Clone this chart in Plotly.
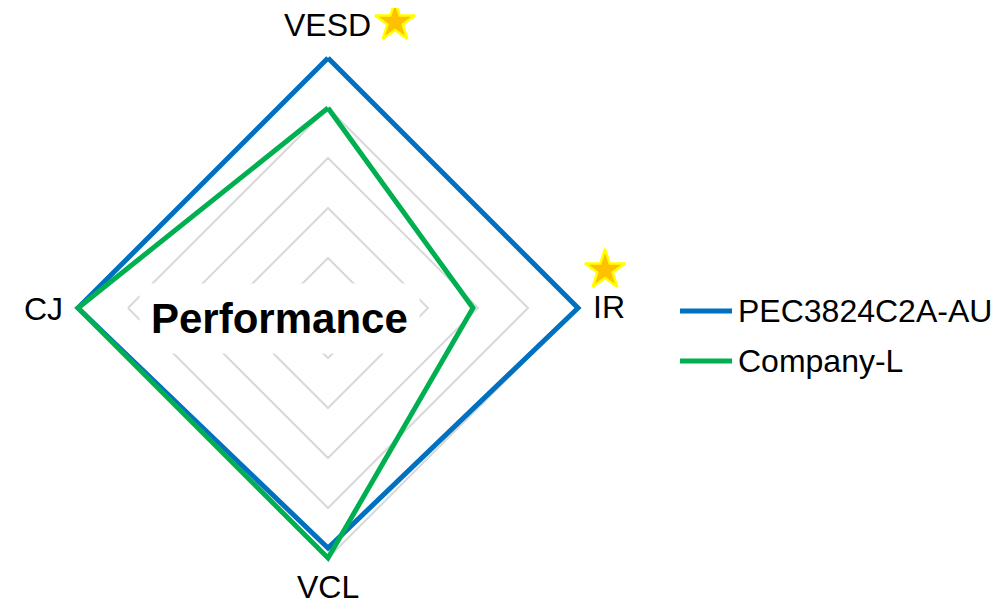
import plotly.graph_objects as go

categories = ["VESD", "IR", "VCL", "CJ"]
series_names = ["PEC3824C2A-AU", "Company-L"]
pec_values = [5.0, 5.0, 4.8, 5.0]
company_values = [4.0, 2.9, 5.0, 5.0]
colors = ["#0070C0", "#00B050"]
star_pos_x = [395, 605]
star_pos_y = [22, 270]

OFF = 8  # page body margin
W, H = 999 - OFF, 604 - OFF
cx, cy = 328 - OFF, 308 - OFF
R_MAX = 5.1
R = 250 * R_MAX / 5.0

fig = go.Figure()
for name, vals, col in zip(series_names, [pec_values, company_values], colors):
    fig.add_trace(go.Scatterpolar(
        r=vals + vals[:1], theta=categories + categories[:1],
        mode="lines", name=name, line=dict(color=col, width=5),
        showlegend=False, hoverinfo="skip"))

# stars
fig.add_trace(go.Scatter(
    x=[v - OFF for v in star_pos_x], y=[v - OFF for v in star_pos_y],
    mode="markers", xaxis="x", yaxis="y",
    marker=dict(symbol="star", size=30, color="#FFC000",
                line=dict(color="#FFFF00", width=2.5)),
    showlegend=False, hoverinfo="skip"))

fig.update_layout(
    width=W, height=H,
    margin=dict(l=0, r=0, t=0, b=0),
    paper_bgcolor="white", plot_bgcolor="rgba(0,0,0,0)",
    font=dict(family="Liberation Sans, Arial, sans-serif", color="black", size=32),
    xaxis=dict(range=[0, W], visible=False, domain=[0, 1], fixedrange=True),
    yaxis=dict(range=[H, 0], visible=False, domain=[0, 1], fixedrange=True),
    polar=dict(
        domain=dict(x=[(cx - R) / W, (cx + R) / W],
                    y=[(H - cy - R) / H, (H - cy + R) / H]),
        gridshape="linear",
        bgcolor="rgba(0,0,0,0)",
        radialaxis=dict(range=[0, R_MAX], tickvals=[1, 2, 3, 4, 5],
                        showticklabels=False, ticks="",
                        showline=False, gridcolor="#D9D9D9", gridwidth=1.5),
        angularaxis=dict(direction="clockwise", rotation=90, showgrid=False,
                         showline=False, ticks="", showticklabels=False),
    ),
)

# category labels around the radar
label_specs = {
    "VESD": dict(x=327, y=25, xanchor="center"),
    "IR": dict(x=591, y=307, xanchor="left"),
    "VCL": dict(x=328, y=587, xanchor="center"),
    "CJ": dict(x=65, y=309, xanchor="right"),
}
for cat in categories:
    s = label_specs[cat]
    fig.add_annotation(x=(s["x"] - OFF) / W, y=1 - (s["y"] - OFF) / H,
                       xref="paper", yref="paper", text=cat, showarrow=False,
                       xanchor=s["xanchor"], yanchor="middle",
                       font=dict(size=32, color="black"))

# Performance label with white box
fig.add_annotation(
    x=(279 - OFF) / W, y=1 - (318 - OFF) / H, xref="paper", yref="paper",
    xanchor="center", yanchor="middle",
    text="<b>Performance</b>", showarrow=False,
    font=dict(size=42, color="black"),
    bgcolor="white", borderpad=11)

# custom legend
legend_y = [311, 361]
for name, col, ly in zip(series_names, colors, legend_y):
    fig.add_shape(type="line", xref="paper", yref="paper",
                  x0=(680 - OFF) / W, x1=(732 - OFF) / W,
                  y0=1 - (ly - OFF) / H, y1=1 - (ly - OFF) / H,
                  line=dict(color=col, width=5))
    fig.add_annotation(x=(736 - OFF) / W, y=1 - (ly - OFF) / H,
                       xref="paper", yref="paper",
                       text=name, showarrow=False, xanchor="left",
                       yanchor="middle", font=dict(size=32, color="black"))

fig.write_html("out.html")
